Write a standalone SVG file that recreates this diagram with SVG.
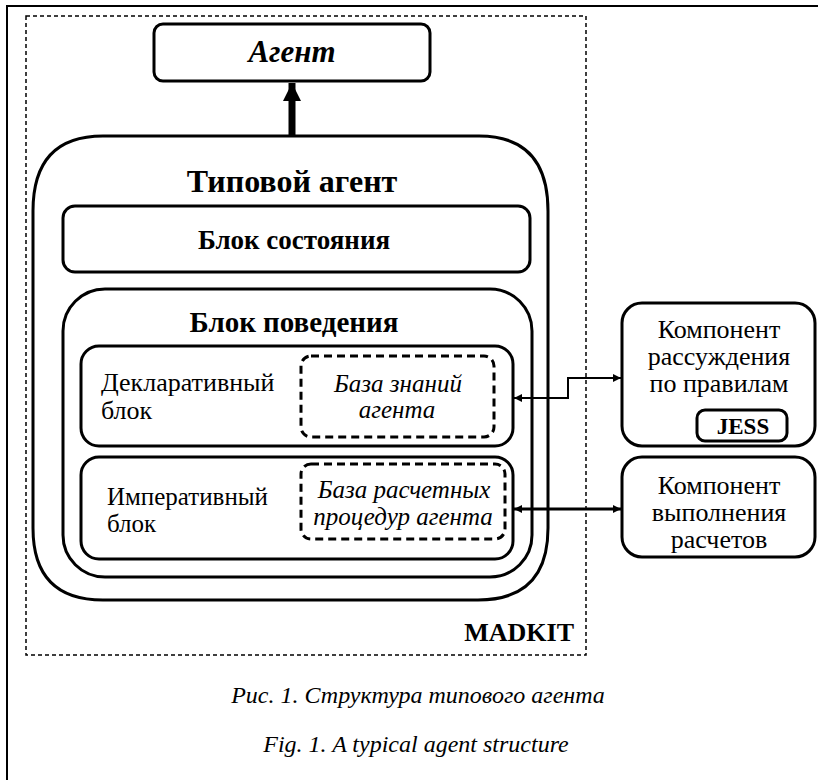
<svg xmlns="http://www.w3.org/2000/svg" width="818" height="780" viewBox="0 0 818 780">
<defs>
<marker id="ah" viewBox="0 0 10 10" refX="10" refY="5" markerWidth="10" markerHeight="8" markerUnits="userSpaceOnUse" orient="auto-start-reverse"><path d="M0,0L10,5L0,10z" fill="#000"/></marker>
<marker id="bigah" viewBox="0 0 10 10" refX="10" refY="5" markerWidth="26" markerHeight="18" markerUnits="userSpaceOnUse" orient="auto"><path d="M0,0L10,5L0,10z" fill="#000"/></marker>
</defs>
<rect x="0" y="0" width="818" height="780" fill="#fff"/>
<g id="frame">
<path d="M7,780V6H818" fill="none" stroke="#000" stroke-width="2"/>
</g>
<g id="madkit">
<rect x="26" y="16" width="560" height="639" fill="none" stroke="#000" stroke-width="1.5" stroke-dasharray="4 3"/>
<text style="font-family:'Liberation Serif';font-weight:bold" x="574" y="641" text-anchor="end" font-size="26">MADKIT</text>
</g>
<g id="agent" fill="#fff" stroke="#000" stroke-width="3">
<rect x="154" y="24" width="276" height="57" rx="9"/>
<text style="font-family:'Liberation Serif';font-weight:bold;font-style:italic" fill="#000" stroke="none" x="292" y="62" text-anchor="middle" font-size="31">Агент</text>
</g>
<g id="typical-agent">
<path fill="#fff" stroke="#000" stroke-width="3" d="M103,136H479Q548,136 548,211V528Q548,600 478,600H103Q33,600 33,528V211Q33,136 103,136z"/>
<text style="font-family:'Liberation Serif';font-weight:bold" x="292" y="192" text-anchor="middle" font-size="32">Типовой агент</text>
</g>
<g id="state-block">
<rect fill="#fff" stroke="#000" stroke-width="3" x="63" y="206" width="467" height="66" rx="12"/>
<text style="font-family:'Liberation Serif';font-weight:bold" x="294" y="249" text-anchor="middle" font-size="27">Блок состояния</text>
</g>
<g id="behavior-block">
<rect fill="#fff" stroke="#000" stroke-width="3" x="63" y="289" width="469" height="288" rx="42"/>
<text style="font-family:'Liberation Serif';font-weight:bold" x="294" y="332" text-anchor="middle" font-size="29">Блок поведения</text>
</g>
<g id="declarative-block">
<rect fill="#fff" stroke="#000" stroke-width="3" x="81" y="346" width="432" height="100" rx="18"/>
<text style="font-family:'Liberation Serif'" x="101" y="391" font-size="26">Декларативный</text>
<text style="font-family:'Liberation Serif'" x="101" y="419" font-size="26">блок</text>
<rect fill="none" stroke="#000" stroke-width="3" stroke-dasharray="8 5" x="301" y="356" width="193" height="81" rx="10"/>
<text style="font-family:'Liberation Serif';font-style:italic" x="398" y="392" text-anchor="middle" font-size="25">База знаний</text>
<text style="font-family:'Liberation Serif';font-style:italic" x="397" y="418" text-anchor="middle" font-size="25">агента</text>
</g>
<g id="imperative-block">
<rect fill="#fff" stroke="#000" stroke-width="3" x="81" y="457" width="432" height="102" rx="18"/>
<text style="font-family:'Liberation Serif'" x="107" y="505" font-size="25">Императивный</text>
<text style="font-family:'Liberation Serif'" x="107" y="532" font-size="25">блок</text>
<rect fill="none" stroke="#000" stroke-width="3" stroke-dasharray="8 5" x="301" y="464" width="204" height="75" rx="10"/>
<text style="font-family:'Liberation Serif';font-style:italic" x="404" y="498" text-anchor="middle" font-size="25">База расчетных</text>
<text style="font-family:'Liberation Serif';font-style:italic" x="403" y="525" text-anchor="middle" font-size="25">процедур агента</text>
</g>
<g id="reasoning-component">
<rect fill="#fff" stroke="#000" stroke-width="3" x="622" y="303" width="193" height="143" rx="20"/>
<text style="font-family:'Liberation Serif'" x="719" y="338" text-anchor="middle" font-size="26">Компонент</text>
<text style="font-family:'Liberation Serif'" x="719" y="365" text-anchor="middle" font-size="26">рассуждения</text>
<text style="font-family:'Liberation Serif'" x="719" y="392" text-anchor="middle" font-size="26">по правилам</text>
<rect fill="#fff" stroke="#000" stroke-width="3" x="697" y="410" width="90" height="31" rx="8"/>
<text style="font-family:'Liberation Serif';font-weight:bold" x="743" y="434" text-anchor="middle" font-size="23">JESS</text>
</g>
<g id="computation-component">
<rect fill="#fff" stroke="#000" stroke-width="3" x="622" y="457" width="193" height="100" rx="20"/>
<text style="font-family:'Liberation Serif'" x="719" y="494" text-anchor="middle" font-size="26">Компонент</text>
<text style="font-family:'Liberation Serif'" x="719" y="521" text-anchor="middle" font-size="26">выполнения</text>
<text style="font-family:'Liberation Serif'" x="719" y="548" text-anchor="middle" font-size="26">расчетов</text>
</g>
<g id="connectors" fill="none" stroke="#000">
<line x1="292" y1="136" x2="292" y2="83" stroke-width="7" marker-end="url(#bigah)"/>
<polyline points="514,398 568,398 568,378 621,378" stroke-width="2" marker-start="url(#ah)" marker-end="url(#ah)"/>
<line x1="514" y1="509" x2="621" y2="509" stroke-width="3" marker-start="url(#ah)" marker-end="url(#ah)"/>
</g>
<g id="captions">
<text style="font-family:'Liberation Serif';font-style:italic" x="418" y="703" text-anchor="middle" font-size="24">Рис. 1. Структура типового агента</text>
<text style="font-family:'Liberation Serif';font-style:italic" x="416" y="752" text-anchor="middle" font-size="24">Fig. 1. A typical agent structure</text>
</g>
</svg>
